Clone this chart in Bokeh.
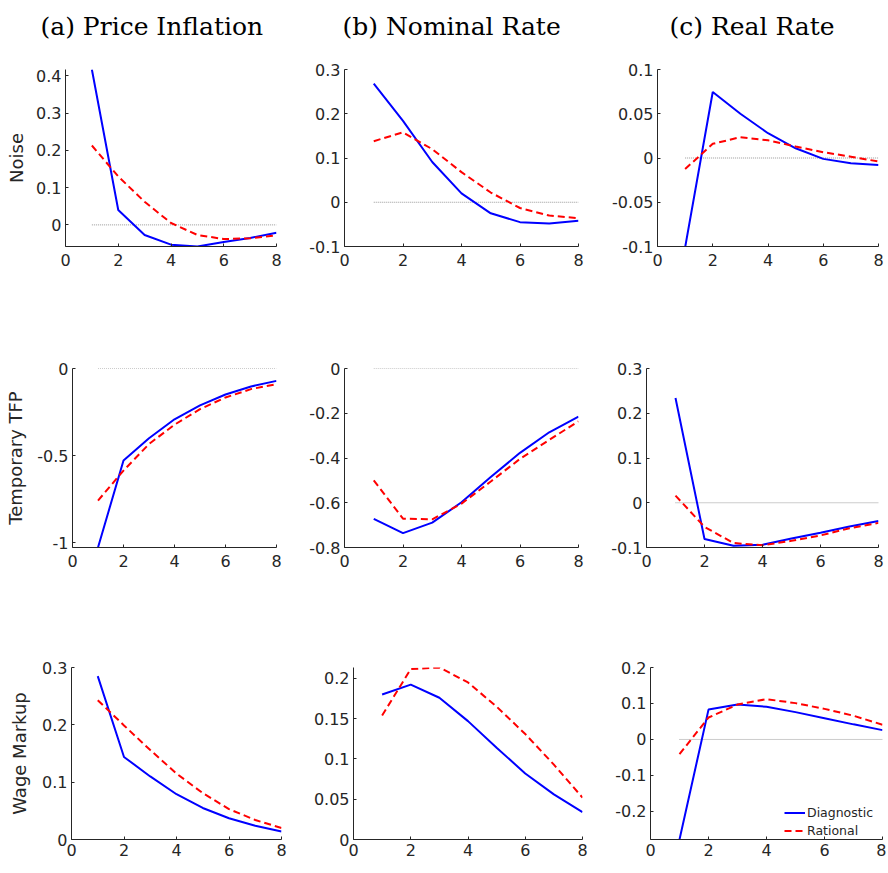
from bokeh.plotting import figure
from bokeh.models import Range1d, FixedTicker, CustomJSTickFormatter, Legend, LegendItem
from bokeh.layouts import column, row
from bokeh.embed import file_html
from bokeh.resources import INLINE

# ---------------- data ----------------
horizon = [1, 2, 3, 4, 5, 6, 7, 8]
zero_x = [1, 8]
zero_y = [0, 0]
x_ticks = [0, 2, 4, 6, 8]

col_titles = ["(a) Price Inflation", "(b) Nominal Rate", "(c) Real Rate"]
row_labels = ["Noise", "Temporary TFP", "Wage Markup"]
legend_labels = ["Diagnostic", "Rational"]

# Noise shock
noise_infl_diag = [0.417, 0.040, -0.027, -0.053, -0.058, -0.046, -0.035, -0.021]
noise_infl_rat = [0.213, 0.130, 0.062, 0.005, -0.027, -0.038, -0.036, -0.028]
noise_nom_diag = [0.268, 0.184, 0.091, 0.020, -0.025, -0.045, -0.048, -0.042]
noise_nom_rat = [0.138, 0.158, 0.120, 0.068, 0.022, -0.013, -0.030, -0.036]
noise_real_diag = [-0.101, 0.0746, 0.050, 0.028, 0.011, -0.001, -0.006, -0.008]
noise_real_rat = [-0.0125, 0.016, 0.0235, 0.020, 0.013, 0.0065, 0.0015, -0.004]

# Temporary TFP shock
tfp_infl_diag = [-1.026, -0.527, -0.400, -0.291, -0.211, -0.149, -0.103, -0.071]
tfp_infl_rat = [-0.757, -0.585, -0.433, -0.322, -0.233, -0.166, -0.118, -0.090]
tfp_nom_diag = [-0.672, -0.736, -0.689, -0.598, -0.485, -0.377, -0.285, -0.215]
tfp_nom_rat = [-0.500, -0.671, -0.674, -0.604, -0.505, -0.404, -0.319, -0.236]
tfp_real_diag = [0.234, -0.081, -0.096, -0.094, -0.080, -0.067, -0.053, -0.041]
tfp_real_rat = [0.016, -0.054, -0.090, -0.095, -0.085, -0.073, -0.057, -0.045]

# Wage markup shock
wage_infl_diag = [0.285, 0.144, 0.110, 0.079, 0.055, 0.037, 0.024, 0.014]
wage_infl_rat = [0.243, 0.199, 0.156, 0.115, 0.081, 0.053, 0.034, 0.020]
wage_nom_diag = [0.180, 0.1924, 0.176, 0.147, 0.114, 0.082, 0.056, 0.034]
wage_nom_rat = [0.154, 0.2116, 0.2136, 0.195, 0.165, 0.131, 0.093, 0.052]
wage_real_diag = [-0.278, 0.083, 0.097, 0.091, 0.076, 0.059, 0.042, 0.026]
wage_real_rat = [-0.041, 0.061, 0.097, 0.112, 0.101, 0.085, 0.066, 0.041]

# y ticks per panel
yt = [
    [[0, 0.1, 0.2, 0.3, 0.4], [-0.1, 0, 0.1, 0.2, 0.3], [-0.1, -0.05, 0, 0.05, 0.1]],
    [[-1, -0.5, 0], [-0.8, -0.6, -0.4, -0.2, 0], [-0.1, 0, 0.1, 0.2, 0.3]],
    [[0, 0.1, 0.2, 0.3], [0, 0.05, 0.1, 0.15, 0.2], [-0.2, -0.1, 0, 0.1, 0.2]],
]
yr = [
    [(-0.058, 0.417), (-0.1, 0.3), (-0.1, 0.1)],
    [(-1.026, 0.0), (-0.8, 0.0), (-0.1, 0.3)],
    [(0.0, 0.3), (0.0, 0.2136), (-0.278, 0.2)],
]
series = [
    [(noise_infl_diag, noise_infl_rat), (noise_nom_diag, noise_nom_rat), (noise_real_diag, noise_real_rat)],
    [(tfp_infl_diag, tfp_infl_rat), (tfp_nom_diag, tfp_nom_rat), (tfp_real_diag, tfp_real_rat)],
    [(wage_infl_diag, wage_infl_rat), (wage_nom_diag, wage_nom_rat), (wage_real_diag, wage_real_rat)],
]

# ---------------- layout geometry ----------------
col_w = [300, 294, 292]
strip_h = 42
row_h = [290 - strip_h, 290, 291]
# (frame_left, frame_top, frame_width, frame_height) in figure-local px
geom = [
    [(65, 68 - strip_h, 211, 178), (44, 69 - strip_h, 234, 180), (63, 69 - strip_h, 221, 179)],
    [(72, 78, 204, 179), (44, 78, 234, 179), (52, 78, 232, 179)],
    [(71, 87, 210, 178), (53, 81, 229, 178), (56, 86, 232, 180)],
]
title_offsets = [-25, -2, 12]
label_standoffs = [6, 8, 9]
x_label_standoff = [7, 7, 4]

INK = "#262626"
TICK_FONT = "DejaVu Sans"

# ---------------- column-title strip ----------------
strips = []
for c in range(3):
    fl, _, fw, _ = geom[0][c]
    W = col_w[c]
    s = figure(width=W, height=strip_h, output_backend="svg", toolbar_location=None,
               x_axis_type=None, y_axis_type=None,
               min_border_left=fl, min_border_right=W - fl - fw,
               min_border_top=strip_h - 2, min_border_bottom=0)
    s.outline_line_color = None
    s.xgrid.visible = False
    s.ygrid.visible = False
    s.title.text = col_titles[c]
    s.title.align = "left"
    s.title.offset = title_offsets[c]
    s.title.standoff = 0
    s.title.text_font = "DejaVu Serif"
    s.title.text_font_size = "25px"
    s.title.text_font_style = "normal"
    s.title.text_color = "black"
    strips.append(s)

figs = [row(*strips)]
for r in range(3):
    row_figs = []
    for c in range(3):
        fl, ft, fw, fh = geom[r][c]
        W, H = col_w[c], row_h[r]
        p = figure(width=W, height=H, output_backend="svg", toolbar_location=None,
                   x_range=Range1d(0, 8), y_range=Range1d(*yr[r][c]),
                   min_border_left=fl, min_border_top=ft,
                   min_border_right=W - fl - fw, min_border_bottom=H - ft - fh)
        p.outline_line_color = None
        p.xgrid.visible = False
        p.ygrid.visible = False
        p.background_fill_color = "white"
        p.border_fill_color = "white"

        p.xaxis.ticker = FixedTicker(ticks=x_ticks)
        p.yaxis.ticker = FixedTicker(ticks=yt[r][c])
        p.yaxis.formatter = CustomJSTickFormatter(code="return String(tick)")
        for ax in (p.xaxis[0], p.yaxis[0]):
            ax.axis_line_color = INK
            ax.axis_line_width = 1
            ax.major_tick_line_color = INK
            ax.major_tick_in = 3
            ax.major_tick_out = 0
            ax.minor_tick_line_color = None
            ax.major_label_text_font = TICK_FONT
            ax.major_label_text_font_size = "16px"
            ax.major_label_text_color = INK
        p.yaxis.major_label_standoff = 4
        p.xaxis.major_label_standoff = x_label_standoff[r]

        if c == 0:
            p.yaxis.axis_label = row_labels[r]
            p.yaxis.axis_label_text_font = TICK_FONT
            p.yaxis.axis_label_text_font_size = "18px"
            p.yaxis.axis_label_text_font_style = "normal"
            p.yaxis.axis_label_text_color = INK
            p.yaxis.axis_label_standoff = label_standoffs[r]

        diag, rat = series[r][c]
        p.line(zero_x, zero_y, line_color="#999999", line_width=1, line_dash="1 1")
        rd = p.line(horizon, diag, line_color="#0000ff", line_width=2)
        rr = p.line(horizon, rat, line_color="#ff0000", line_width=2, line_dash="7 4")

        if r == 2 and c == 2:
            leg = Legend(items=[LegendItem(label=legend_labels[0], renderers=[rd]),
                                LegendItem(label=legend_labels[1], renderers=[rr])],
                         location=(134, 0))
            leg.background_fill_alpha = 0
            leg.border_line_color = None
            leg.label_text_font = TICK_FONT
            leg.label_text_font_size = "12.5px"
            leg.label_text_color = INK
            leg.glyph_width = 21
            leg.glyph_height = 17
            leg.label_standoff = 2
            leg.label_height = 17
            leg.spacing = 1
            leg.padding = 2
            leg.margin = 0
            p.add_layout(leg)
        row_figs.append(p)
    figs.append(row(*row_figs))

layout = column(*figs)
open("out.html", "w").write(file_html(layout, INLINE))
